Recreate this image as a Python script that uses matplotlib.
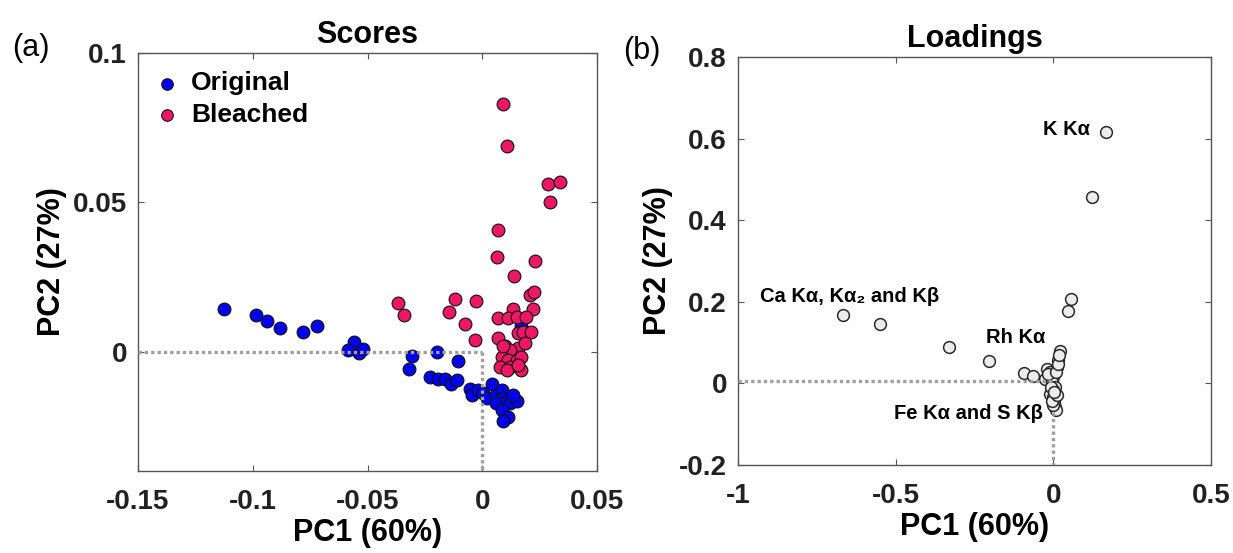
import numpy as np
import matplotlib
matplotlib.use("Agg")
import matplotlib.pyplot as plt

plt.rcParams["font.family"] = ["Liberation Sans", "DejaVu Sans"]

# ---- scores (a) ----
orig_x = [-0.1124, -0.0986, -0.0938, -0.0880, -0.0781, -0.0719, -0.0558, -0.0584,
          -0.0537, -0.0519, -0.0306, -0.0318, -0.0198, -0.0105, -0.0227, -0.0192,
          -0.0163, -0.0134, -0.0112, -0.0054, -0.0046, -0.0017, 0.0004, 0.0041,
          0.0019, 0.0062, 0.0084, 0.0092, 0.0062, 0.0106, 0.0121, 0.0150,
          0.0084, 0.0113, 0.0092, 0.0135, 0.0171, 0.0160]
orig_y = [0.0143, 0.0122, 0.0102, 0.0080, 0.0064, 0.0087, 0.0032, 0.0006,
          -0.0006, 0.0008, -0.0015, -0.0057, 0.0000, -0.0030, -0.0084, -0.0093,
          -0.0093, -0.0108, -0.0095, -0.0125, -0.0145, -0.0128, -0.0140, -0.0108,
          -0.0156, -0.0145, -0.0128, -0.0156, -0.0173, -0.0167, -0.0173, -0.0165,
          -0.0195, -0.0218, -0.0234, -0.0145, 0.0084, -0.0020]

bl_x = [0.0089, 0.0110, 0.0286, 0.0338, 0.0296, 0.0067, 0.0064, 0.0232,
        0.0137, 0.0208, 0.0227, -0.0366, -0.0343, -0.0119, -0.0145, -0.0028,
        -0.0074, -0.0032, 0.0135, 0.0222, 0.0070, 0.0113, 0.0150, 0.0190,
        0.0157, 0.0176, 0.0212, 0.0070, 0.0099, 0.0157, 0.0121, 0.0084,
        0.0113, 0.0150, 0.0171, 0.0077, 0.0121, 0.0171, 0.0106, 0.0157,
        0.0092, 0.0186]
bl_y = [0.0828, 0.0687, 0.0560, 0.0568, 0.0501, 0.0406, 0.0318, 0.0304,
        0.0253, 0.0190, 0.0198, 0.0164, 0.0122, 0.0177, 0.0134, 0.0171,
        0.0092, 0.0038, 0.0142, 0.0142, 0.0112, 0.0112, 0.0115, 0.0117,
        0.0061, 0.0064, 0.0064, 0.0045, 0.0017, 0.0011, 0.0006, -0.0017,
        -0.0028, -0.0028, -0.0017, -0.0050, -0.0050, -0.0061, -0.0061, -0.0045,
        0.0017, 0.0028]

# ---- loadings (b) ----
load_x = [0.167, 0.122, 0.056, 0.048, -0.666, -0.551, -0.330, -0.205,
          -0.092, -0.063, 0.021, 0.016, 0.011, -0.021, -0.011, -0.026,
          0.000, -0.005, 0.005, 0.000, -0.011, 0.000, 0.003, 0.005,
          0.007, -0.002, -0.005, 0.011, -0.016, 0.007, 0.014, 0.019,
          -0.008, 0.003]
load_y = [0.615, 0.458, 0.207, 0.177, 0.167, 0.146, 0.088, 0.056,
          0.026, 0.017, 0.080, 0.058, 0.040, 0.036, 0.028, 0.011,
          0.016, 0.003, -0.009, -0.017, -0.025, -0.034, -0.046, -0.058,
          -0.066, -0.054, -0.042, -0.029, 0.024, 0.028, 0.048, 0.069,
          -0.009, -0.021]

labels = ["K K\u03b1", "Ca K\u03b1, K\u03b1\u2082 and K\u03b2", "Rh K\u03b1",
          "Fe K\u03b1 and S K\u03b2"]
label_x = [-0.032, -0.930, -0.213, -0.505]
label_y = [0.608, 0.199, 0.098, -0.088]

W, H = 1233, 553
fig = plt.figure(figsize=(W / 100, H / 100), dpi=100)
ax1 = fig.add_axes([138 / W, 1 - 471 / H, 459 / W, 418 / H])
ax2 = fig.add_axes([738 / W, 1 - 465 / H, 473 / W, 408 / H])

GRID = "#a0a0a0"


def style(ax):
    for s in ax.spines.values():
        s.set_color("#555555")
        s.set_linewidth(1.0)
    ax.tick_params(direction="in", length=4, width=0.8, top=True, right=True,
                   colors="#555555", labelcolor="#222222", labelsize=20)
    ax.tick_params(axis="x", pad=13)
    ax.tick_params(axis="y", pad=8)
    for t in ax.get_xticklabels() + ax.get_yticklabels():
        t.set_fontweight("bold")


def dotted(ax, xs, ys):
    ax.plot(xs, ys, color=GRID, lw=2.4, dashes=(1, 0.9),
            dash_capstyle="butt", zorder=5)


# scores
ax1.scatter(orig_x, orig_y, s=85, c="#0000f0", edgecolors="#111111",
            linewidths=0.8, label="Original", zorder=3)
ax1.scatter(bl_x, bl_y, s=85, c="#ee1763", edgecolors="#111111",
            linewidths=0.8, label="Bleached", zorder=4)
ax1.set_xlim(-0.15, 0.05)
ax1.set_ylim(-0.04, 0.1)
ax1.set_xticks([-0.15, -0.1, -0.05, 0, 0.05])
ax1.set_xticklabels(["-0.15", "-0.1", "-0.05", "0", "0.05"])
ax1.set_yticks([0, 0.05, 0.1])
ax1.set_yticklabels(["0", "0.05", "0.1"])
dotted(ax1, [-0.15, 0], [0, 0])
dotted(ax1, [0, 0], [0, -0.04])
style(ax1)
ax1.set_title("Scores", fontsize=22, fontweight="bold", pad=7)
ax1.set_xlabel("PC1 (60%)", fontsize=22, fontweight="bold", labelpad=2)
ax1.set_ylabel("PC2 (27%)", fontsize=22, fontweight="bold")
ax1.yaxis.set_label_coords(-0.155, 0.5)
leg = ax1.legend(loc="upper left", frameon=False, prop={"size": 19, "weight": "bold"},
                 handlelength=0.8, handletextpad=0.5, labelspacing=0.3,
                 borderpad=0.2, borderaxespad=0.5, markerscale=0.9)

# loadings
ax2.scatter(load_x, load_y, s=72, c="#ececec", edgecolors="#2a2a2a",
            linewidths=1.1, zorder=3)
ax2.set_xlim(-1, 0.5)
ax2.set_ylim(-0.2, 0.8)
ax2.set_xticks([-1, -0.5, 0, 0.5])
ax2.set_xticklabels(["-1", "-0.5", "0", "0.5"])
ax2.set_yticks([-0.2, 0, 0.2, 0.4, 0.6, 0.8])
ax2.set_yticklabels(["-0.2", "0", "0.2", "0.4", "0.6", "0.8"])
dotted(ax2, [-1, 0], [0.005, 0.005])
dotted(ax2, [0, 0], [-0.07, -0.2])
style(ax2)
for txt, x, y in zip(labels, label_x, label_y):
    ax2.text(x, y, txt, fontsize=14.5, fontweight="bold", ha="left", va="baseline",
             zorder=6)
ax2.set_title("Loadings", fontsize=22, fontweight="bold", pad=7)
ax2.set_xlabel("PC1 (60%)", fontsize=22, fontweight="bold", labelpad=2)
ax2.set_ylabel("PC2 (27%)", fontsize=22, fontweight="bold")
ax2.yaxis.set_label_coords(-0.138, 0.5)

fig.text(12 / W, 1 - 48 / H, "(a)", fontsize=22, ha="left", va="center")
fig.text(623 / W, 1 - 51 / H, "(b)", fontsize=22, ha="left", va="center")

fig.savefig("out.png", dpi=100, facecolor="white")
